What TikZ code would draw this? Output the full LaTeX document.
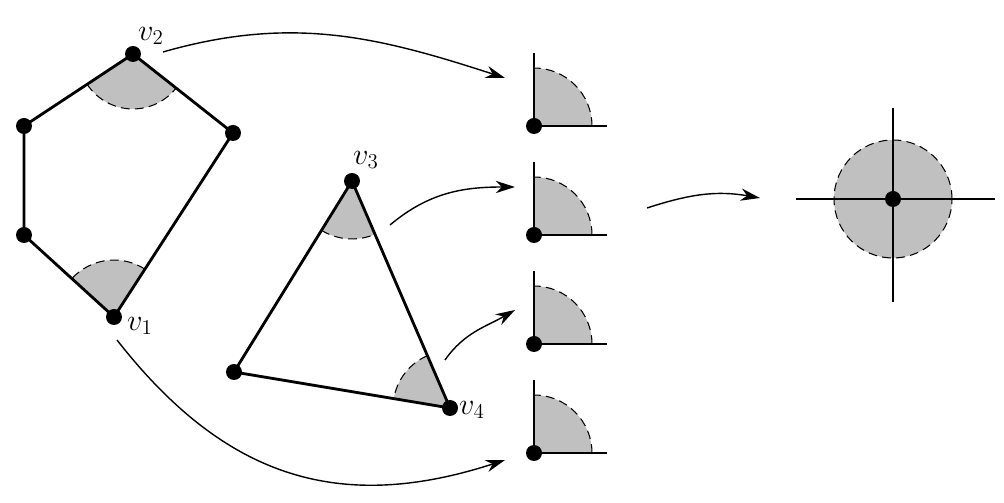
\documentclass[tikz,border=0pt]{standalone}
\usetikzlibrary{arrows.meta}
\definecolor{wedgegray}{RGB}{192,192,192}
\tikzset{
  dot/.style={circle,fill=black,inner sep=0pt,minimum size=0.32cm},
  edge/.style={line width=1.6pt},
  thinaxis/.style={line width=0.8pt},
  arcdash/.style={dash pattern=on 5pt off 3pt, line width=0.6pt},
  conn/.style={line width=0.8pt, -{Stealth[length=11pt,width=7pt]}},
  lbl/.style={font=\fontsize{17.5}{20}\selectfont, inner sep=0pt}
}
\newcommand\mywedge[4]{%
  \fill[wedgegray] (#1) -- ++(#2:#4) arc[start angle=#2,end angle=#3,radius=#4] -- cycle;
  \draw[arcdash] (#1) ++(#2:#4) arc[start angle=#2,end angle=#3,radius=#4];
}
\begin{document}
\begin{tikzpicture}[x=0.02cm,y=0.02cm]
\useasboundingbox (0,0) rectangle (1004,503);
% hexagon
\coordinate (v2) at (133,449);
\coordinate (hr) at (233,370);
\coordinate (v1) at (114,186);
\coordinate (hbl) at (24,268);
\coordinate (htl) at (24,377);
% triangle
\coordinate (v3) at (352,322);
\coordinate (tl) at (234,131);
\coordinate (v4) at (450,95);
% wedges
\mywedge{v2}{213.4}{321.7}{1.1cm}
\mywedge{v1}{57.1}{137.7}{1.14cm}
\mywedge{v3}{238.3}{293.4}{1.16cm}
\mywedge{v4}{113.4}{170.5}{1.14cm}
% edges
\draw[edge,line join=round] (v2) -- (hr) -- (v1) -- (hbl) -- (htl) -- cycle;
\draw[edge,line join=round] (v3) -- (v4) -- (tl) -- cycle;
\foreach \p in {v1,v2,v3,v4,hr,hbl,htl,tl} \node[dot] (d\p) at (\p) {};
% labels
\node[lbl] (l2) at (151,467) {$v_2$};
\node[lbl] (l1) at (140,177) {$v_1$};
\node[lbl] (l3) at (366,343) {$v_3$};
\node[lbl] (l4) at (472,93) {$v_4$};
% quarters
\foreach \i/\y in {1/377,2/268,3/159,4/50}{
  \coordinate (q\i) at (534,\y);
  \fill[wedgegray] (q\i) -- ++(1.16cm,0) arc[start angle=0,end angle=90,radius=1.16cm] -- cycle;
  \draw[arcdash] (q\i) ++(1.16cm,0) arc[start angle=0,end angle=90,radius=1.16cm];
  \draw[thinaxis] (q\i) -- ++(1.46cm,0);
  \draw[thinaxis] (q\i) -- ++(0,1.46cm);
  \draw[edge] (q\i) -- ++(1.16cm,0);
  \draw[edge] (q\i) -- ++(0,1.16cm);
  \node[dot] (dq\i) at (q\i) {};
}
% full circle
\coordinate (c) at (893,304);
\fill[wedgegray] (c) circle[radius=1.18cm];
\draw[arcdash] (c) circle[radius=1.18cm];
\draw[thinaxis] (c) ++(-97,0) -- ++(199,0);
\draw[thinaxis] (c) ++(0,91) -- ++(0,-194);
\draw[edge] (c) ++(-1.18cm,0) -- ++(2.36cm,0);
\draw[edge] (c) ++(0,-1.18cm) -- ++(0,2.36cm);
\node[dot] (dc) at (c) {};
% connectors
\coordinate (a1s) at (163,451); \coordinate (a1e) at (505,425);
\coordinate (a2s) at (390,278); \coordinate (a2e) at (515,316);
\coordinate (a3s) at (445,143); \coordinate (a3e) at (515,193);
\coordinate (a4s) at (117,163); \coordinate (a4e) at (505,43);
\coordinate (a5s) at (647,295); \coordinate (a5e) at (760,305);
\draw[conn] (a1s) to[out=16,in=162] (a1e);
\draw[conn] (a2s) to[out=40,in=180] (a2e);
\draw[conn] (a3s) to[out=55,in=210] (a3e);
\draw[conn] (a4s) to[out=-52,in=198,looseness=1.1] (a4e);
\draw[conn] (a5s) to[out=18,in=170] (a5e);
\end{tikzpicture}
\end{document}
